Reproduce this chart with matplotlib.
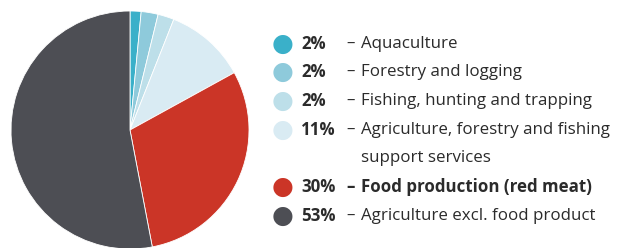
import matplotlib.pyplot as plt

# slice sizes (clockwise from 12 o'clock)
shares = [1.5, 2.3, 2.2, 11, 30, 53]
pct_labels = ["2%", "2%", "2%", "11%", "30%", "53%"]
names = [
    "Aquaculture",
    "Forestry and logging",
    "Fishing, hunting and trapping",
    "Agriculture, forestry and fishing\nsupport services",
    "Food production (red meat)",
    "Agriculture excl. food product",
]
colors = ["#3ab0c9", "#8ecadb", "#bddfe9", "#d9ebf3", "#cb3527", "#4d4e54"]
highlight = 4

plt.rcParams["font.family"] = ["Open Sans", "DejaVu Sans"]

W, H = 617, 248
fig = plt.figure(figsize=(W / 100, H / 100), dpi=100)

# pie: centre (130,130) px, radius 119 px
cx, cy, r = 130, 130, 119
ax = fig.add_axes([(cx - r) / W, (H - cy - r) / H, 2 * r / W, 2 * r / H])
ax.pie(shares, colors=colors, startangle=90, counterclock=False,
       wedgeprops=dict(edgecolor="white", linewidth=0.6), radius=1)
ax.set_xlim(-1, 1)
ax.set_ylim(-1, 1)
ax.set_aspect("equal")
ax.axis("off")

# legend rows
row_y = [44, 72, 101, 130, 187, 216]
txt_col = "#2b2b2b"
fs = 12.2
for i, y in enumerate(row_y):
    fy = 1 - y / H
    fig.text(283 / W, fy, "\u25cf", color=colors[i], fontsize=18,
             ha="center", va="center", family="DejaVu Sans")
    bold = i == highlight
    fig.text(301 / W, fy, pct_labels[i], color=txt_col, fontsize=fs,
             fontweight="bold", va="center")
    fig.text(346 / W, fy, "\u2013", color=txt_col, fontsize=fs,
             fontweight="bold" if bold else "normal", va="center")
    lines = names[i].split("\n")
    for k, line in enumerate(lines):
        fig.text(361 / W, 1 - (y + 28.5 * k) / H, line, color=txt_col,
                 fontsize=fs, fontweight="bold" if bold else "normal",
                 va="center")

fig.savefig("out.png", dpi=100)
